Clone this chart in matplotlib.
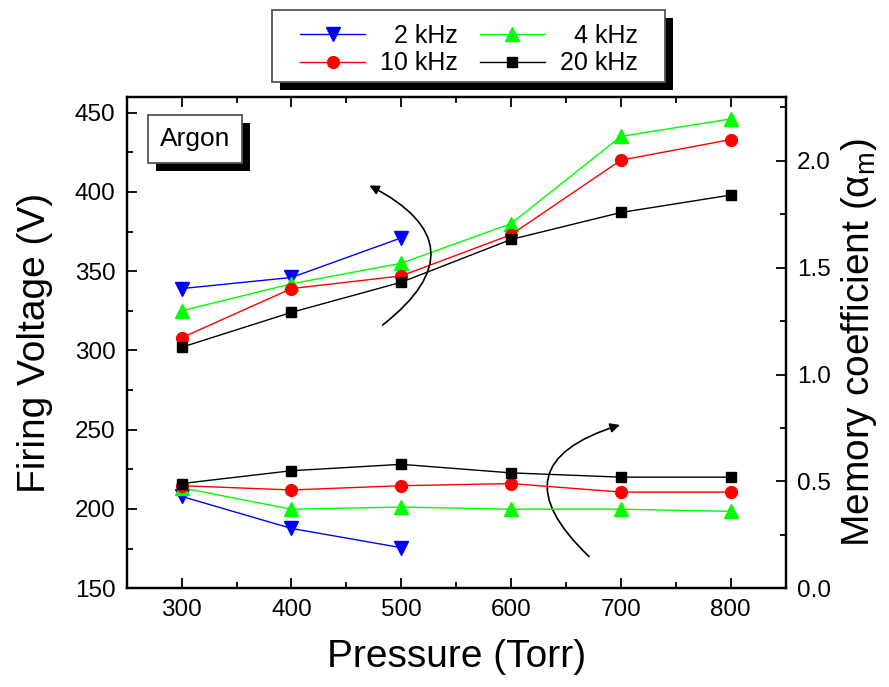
import matplotlib
matplotlib.use('Agg')
import matplotlib.pyplot as plt
import matplotlib.patheffects as pe
from matplotlib.patches import Rectangle
from matplotlib.ticker import MultipleLocator, FormatStrFormatter

plt.rcParams['font.family'] = ['Liberation Sans', 'DejaVu Sans']

# Pressure values (Torr)
pressure = [300, 400, 500, 600, 700, 800]
pressure_2k = [300, 400, 500]

# Firing voltage (V), left axis
vf_2k = [339, 346, 371]
vf_4k = [325, 342, 355, 380, 435, 446]
vf_10k = [308, 339, 347, 373, 420, 433]
vf_20k = [302, 324, 343, 370, 387, 398]

# Memory coefficient alpha_m, right axis
am_2k = [0.43, 0.28, 0.19]
am_4k = [0.47, 0.37, 0.38, 0.37, 0.37, 0.36]
am_10k = [0.48, 0.46, 0.48, 0.49, 0.45, 0.45]
am_20k = [0.49, 0.55, 0.58, 0.54, 0.52, 0.52]

series = [
    ('  2 kHz', pressure_2k, vf_2k, am_2k, 'v', '#0000ff', 9.5),
    ('  4 kHz', pressure, vf_4k, am_4k, '^', '#00ff00', 9.5),
    ('10 kHz', pressure, vf_10k, am_10k, 'o', '#ff0000', 8.5),
    ('20 kHz', pressure, vf_20k, am_20k, 's', '#000000', 7.0),
]

W, H = 889, 687
fig = plt.figure(figsize=(W / 100, H / 100), dpi=100)
ax = fig.add_axes([0.1425, 0.1437, 0.7413, 0.7155])
ax2 = ax.twinx()

handles = {}
for label, xs, vf, am, mk, col, ms in series:
    h, = ax.plot(xs, vf, color=col, marker=mk, ms=ms, mec=col, lw=1.0, label=label)
    ax2.plot(xs, am, color=col, marker=mk, ms=ms, mec=col, lw=1.0)
    handles[label] = h

ax.set_xlim(250, 850)
ax.set_ylim(150, 460)
ax2.set_ylim(0, 2.3)

ax.xaxis.set_major_locator(MultipleLocator(100))
ax.xaxis.set_minor_locator(MultipleLocator(50))
ax.yaxis.set_major_locator(MultipleLocator(50))
ax.yaxis.set_minor_locator(MultipleLocator(25))
ax2.yaxis.set_major_locator(MultipleLocator(0.5))
ax2.yaxis.set_minor_locator(MultipleLocator(0.25))
ax2.yaxis.set_major_formatter(FormatStrFormatter('%.1f'))

for a in (ax, ax2):
    for s in a.spines.values():
        s.set_linewidth(1.6)
ax.tick_params(axis='x', which='both', direction='in', top=True, bottom=True,
               labelsize=17.5, pad=8)
ax.tick_params(axis='y', which='both', direction='in', left=True, right=False,
               labelsize=17.5, pad=8)
ax2.tick_params(axis='y', which='both', direction='in', left=False, right=True,
                labelsize=17.5, pad=8)
for a in (ax, ax2):
    a.tick_params(which='major', length=7, width=1.3)
    a.tick_params(which='minor', length=4, width=1.3)

ax.set_xlabel('Pressure (Torr)', fontsize=28, labelpad=13)
ax.set_ylabel('Firing Voltage (V)', fontsize=28, labelpad=16)
ax2.set_ylabel(r'Memory coefficient (α$_\mathregular{m}$)', fontsize=28, labelpad=6)

# Curved arrows pointing each group to its axis
ax.annotate('', xy=(471, 404), xytext=(483, 316),
            arrowprops=dict(arrowstyle='-|>', connectionstyle='arc3,rad=0.78',
                            lw=1.2, color='k', mutation_scale=14,
                            shrinkA=0, shrinkB=0))
ax.annotate('', xy=(699, 253), xytext=(671, 170),
            arrowprops=dict(arrowstyle='-|>', connectionstyle='arc3,rad=-0.85',
                            lw=1.2, color='k', mutation_scale=14,
                            shrinkA=0, shrinkB=0))

shadow = [pe.SimplePatchShadow(offset=(6, -6), shadow_rgbFace='k', alpha=1.0),
          pe.Normal()]

txt = ax.text(0.1036, 0.914, 'Argon', transform=ax.transAxes, fontsize=19,
              ha='center', va='center',
              bbox=dict(boxstyle='square,pad=0.45', fc='white', ec='#555555', lw=1.3))
txt.get_bbox_patch().set_path_effects(shadow)

# Legend frame with drop shadow above the plot
frame = Rectangle((272 / W, 1 - 82 / H), (665 - 272) / W, 72 / H,
                  transform=fig.transFigure, fc='white', ec='#555555', lw=1.3,
                  zorder=1)
frame.set_path_effects(shadow)
fig.patches.append(frame)

order = ['  2 kHz', '10 kHz', '  4 kHz', '20 kHz']
leg = fig.legend([handles[k] for k in order], order, ncol=2,
                 loc='center', bbox_to_anchor=(469 / W, 1 - 49.5 / H),
                 bbox_transform=fig.transFigure, borderaxespad=0, borderpad=0,
                 fontsize=18, frameon=False, handlelength=2.6, handletextpad=0.6,
                 columnspacing=0.88, labelspacing=0.15)

fig.savefig('out.png', dpi=100)
